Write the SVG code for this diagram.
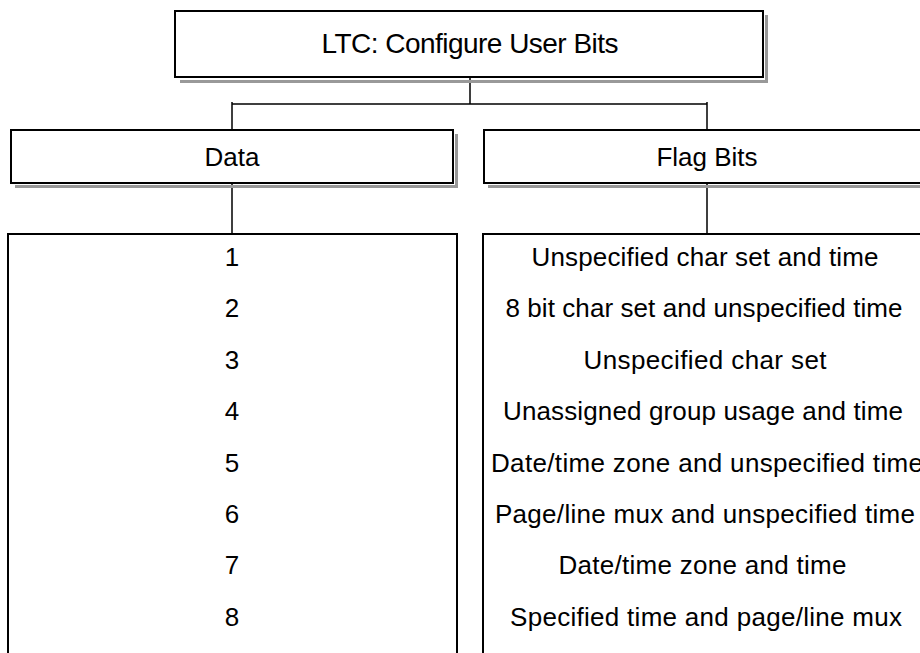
<svg xmlns="http://www.w3.org/2000/svg" width="920" height="653" viewBox="0 0 920 653">
<style>
.box{fill:#fff;stroke:#000;stroke-width:2}
.sh{fill:none;stroke:#999;stroke-width:3}
.ln{fill:none;stroke:#000;stroke-width:1.5}
text{font-family:"Liberation Sans",Arial,sans-serif;fill:#000;text-anchor:middle}
.t{font-size:26px}
</style>
<rect width="920" height="653" fill="#fff"/>
<g id="connectors">
<path class="ln" d="M470 78V104M232 104H707M232 102V130M707 102V130M232 183V234M707 183V234"/>
</g>
<g id="title">
<polyline class="sh" points="180,81.5 766.5,81.5 766.5,15"/>
<rect class="box" x="175" y="11" width="588" height="66"/>
<text x="470" y="53" font-size="28" textLength="297" lengthAdjust="spacing">LTC: Configure User Bits</text>
</g>
<g id="data">
<polyline class="sh" points="15,186.5 456.5,186.5 456.5,134"/>
<rect class="box" x="11" y="130" width="442" height="53"/>
<text class="t" x="232" y="166">Data</text>
</g>
<g id="flagbits">
<polyline class="sh" points="488,186.5 930,186.5"/>
<rect class="box" x="484" y="130" width="446" height="53"/>
<text class="t" x="707" y="166">Flag Bits</text>
</g>
<g id="datalist">
<rect class="box" x="8" y="234" width="449" height="440"/>
<text class="t" x="232" y="266">1</text>
<text class="t" x="232" y="317.4">2</text>
<text class="t" x="232" y="368.8">3</text>
<text class="t" x="232" y="420.2">4</text>
<text class="t" x="232" y="471.6">5</text>
<text class="t" x="232" y="523">6</text>
<text class="t" x="232" y="574.4">7</text>
<text class="t" x="232" y="625.8">8</text>
</g>
<g id="flaglist">
<rect class="box" x="483" y="234" width="447" height="440"/>
<text class="t" x="705" y="266" textLength="347" lengthAdjust="spacing">Unspecified char set and time</text>
<text class="t" x="704" y="317.4" textLength="397" lengthAdjust="spacing">8 bit char set and unspecified time</text>
<text class="t" x="705" y="368.8" textLength="243" lengthAdjust="spacing">Unspecified char set</text>
<text class="t" x="703" y="420.2" textLength="400" lengthAdjust="spacing">Unassigned group usage and time</text>
<text class="t" x="707" y="471.6" textLength="432" lengthAdjust="spacing">Date/time zone and unspecified time</text>
<text class="t" x="705" y="523" textLength="420" lengthAdjust="spacing">Page/line mux and unspecified time</text>
<text class="t" x="702.5" y="574.4" textLength="288" lengthAdjust="spacing">Date/time zone and time</text>
<text class="t" x="706" y="625.8" textLength="392" lengthAdjust="spacing">Specified time and page/line mux</text>
</g>
</svg>
